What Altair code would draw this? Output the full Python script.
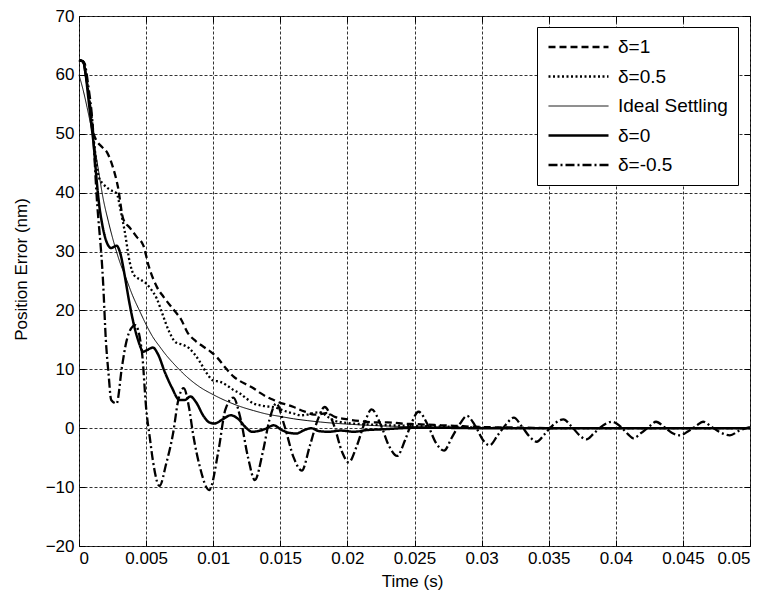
import altair as alt
import pandas as pd

FONT = "Liberation Sans"

series_order = ["δ=1", "δ=0.5", "Ideal Settling", "δ=0", "δ=-0.5"]
dash_list = [[7, 4], [2, 2.5], [1, 0], [1, 0], [9, 3, 2, 3]]
width_list = [2.3, 2.3, 1.0, 2.5, 2.3]

x_ticks = [0, 0.005, 0.01, 0.015, 0.02, 0.025, 0.03, 0.035, 0.04, 0.045, 0.05]
y_ticks = [-20, -10, 0, 10, 20, 30, 40, 50, 60, 70]

# delta = 1 (dashed)
t_d1 = [0, 0.0003, 0.0005, 0.0007, 0.0009, 0.0011, 0.0013, 0.0017, 0.0021, 0.0025,
        0.0029, 0.0033, 0.0038, 0.0043, 0.0048, 0.0052, 0.0058, 0.0063, 0.0071, 0.0076,
        0.0081, 0.0087, 0.0093, 0.0098, 0.0103, 0.0109, 0.0115, 0.012, 0.0125, 0.013,
        0.0135, 0.014, 0.0145, 0.015, 0.0155, 0.016, 0.0165, 0.017, 0.0175, 0.018,
        0.0185, 0.019, 0.02, 0.021, 0.022, 0.023, 0.024, 0.025, 0.026, 0.027, 0.028,
        0.03, 0.033, 0.036, 0.04, 0.045, 0.05]
v_d1 = [62.5, 62.3, 60, 57, 53.5, 50, 48.9, 47.8, 46.8, 44.5,
        41, 35.5, 34, 32.5, 31, 27.5, 24, 22.3, 20, 18.5,
        16.2, 14.8, 13.8, 13, 12, 10.3, 8.8, 8, 7.4, 6.8,
        6, 5.3, 4.8, 4.3, 4, 3.6, 3.1, 2.7, 2.3, 2.4,
        2.6, 2.0, 1.5, 1.2, 1.0, 1.0, 0.8, 0.7, 0.6, 0.5, 0.4,
        0.2, 0.1, 0, 0, 0, 0]

# delta = 0.5 (dotted)
t_d05 = [0, 0.0003, 0.0005, 0.0007, 0.0009, 0.0011, 0.0013, 0.0015, 0.0018, 0.0023,
         0.0028, 0.0031, 0.0034, 0.0038, 0.0041, 0.0046, 0.005, 0.0054, 0.0058, 0.0062,
         0.0067, 0.0072, 0.0077, 0.0082, 0.0086, 0.009, 0.0095, 0.01, 0.0105, 0.011,
         0.0115, 0.012, 0.0125, 0.013, 0.0135, 0.014, 0.0145, 0.015, 0.0155, 0.016,
         0.0165, 0.017, 0.0175, 0.018, 0.0185, 0.019, 0.02, 0.021, 0.022, 0.023,
         0.025, 0.027, 0.03, 0.035, 0.04, 0.05]
v_d05 = [62.5, 62.3, 60, 57, 53, 49, 45, 42.5, 41.5, 40.5,
         39.9, 37, 33.5, 28, 26, 25.2, 24.6, 23.5, 22, 19.5,
         16.5, 14.6, 14.2, 13.6, 12.6, 11.3, 9.4, 8.1, 7.9, 7.3,
         6.5, 5.9, 5, 4.2, 3.9, 3.7, 3.6, 3.2, 2.8, 2.5,
         2.2, 2.3, 2.6, 2.7, 2.0, 1.3, 0.9, 0.7, 0.6, 0.5,
         0.4, 0.3, 0.1, 0, 0, 0]

# ideal settling (thin)
t_id = [0, 0.0003, 0.0006, 0.001, 0.0014, 0.0018, 0.0022, 0.0026, 0.003, 0.0035,
        0.004, 0.0045, 0.005, 0.0055, 0.006, 0.0065, 0.007, 0.0075, 0.008, 0.009,
        0.01, 0.011, 0.012, 0.013, 0.014, 0.015, 0.016, 0.017, 0.018, 0.019,
        0.02, 0.022, 0.025, 0.03, 0.035, 0.04, 0.045, 0.05]
v_id = [60, 57.5, 54.5, 50, 44.5, 39, 35, 31.5, 28.5, 25.5,
        22.5, 20, 17.6, 15.5, 13.9, 12.4, 11.1, 9.9, 8.8, 7,
        5.7, 4.6, 3.7, 3.0, 2.4, 2.0, 1.6, 1.3, 1.05, 0.85,
        0.7, 0.45, 0.25, 0.1, 0.04, 0.02, 0.01, 0]

# delta = 0 (thick solid)
t_d0 = [0, 0.0003, 0.0005, 0.0007, 0.0009, 0.0011, 0.0013, 0.0015, 0.0017, 0.002,
        0.0024, 0.0028, 0.0031, 0.0034, 0.0037, 0.004, 0.0044, 0.0048, 0.0051, 0.0055,
        0.0059, 0.0064, 0.0069, 0.0075, 0.0079, 0.0083, 0.0087, 0.0093, 0.0097, 0.0101,
        0.0107, 0.0113, 0.0119, 0.0124, 0.0129, 0.0135, 0.014, 0.0145, 0.0151, 0.0157,
        0.0162, 0.0168, 0.0173, 0.0179, 0.0186, 0.0195, 0.0205, 0.0215, 0.0225, 0.024,
        0.026, 0.03, 0.035, 0.04, 0.045, 0.05]
v_d0 = [62.5, 62.3, 60, 56, 52, 48, 42.5, 38, 35, 32,
        30.6, 31, 29.5, 26, 22, 18.5, 15, 13, 13.3, 13.7,
        12.5, 9.5, 7, 4.8, 4.8, 5.4, 4.5, 2, 1, 0.8,
        1.5, 2.2, 1.5, 0.2, -0.6, -0.4, 0, 0.5, -0.3, -0.8,
        -0.9, -0.3, 0, -0.5, -0.6, -0.4, -0.6, -0.3, -0.2, 0,
        0.1, 0, 0, 0, 0, 0]

# delta = -0.5 (dash-dot)
t_dm05 = [0, 0.0004, 0.0007, 0.001, 0.0013, 0.0018, 0.002, 0.0022, 0.0024, 0.0028,
          0.0032, 0.0035, 0.0039, 0.0042, 0.0047, 0.005, 0.0053, 0.0055, 0.006, 0.0065,
          0.007, 0.0074, 0.0078, 0.0082, 0.0085, 0.009, 0.0097, 0.0104, 0.0109, 0.0115,
          0.012, 0.0126, 0.0131, 0.0137, 0.0142, 0.0147, 0.0153, 0.016, 0.0166, 0.0172,
          0.0178, 0.0183, 0.019, 0.0196, 0.0201, 0.0207, 0.0213, 0.0218, 0.0225, 0.0231,
          0.0237, 0.0243, 0.0248, 0.0253, 0.026, 0.0266, 0.0272, 0.0278, 0.0284, 0.0289,
          0.0295, 0.0301, 0.0306, 0.0312, 0.0318, 0.0324, 0.033, 0.0336, 0.0341, 0.0347,
          0.0353, 0.0361, 0.0367, 0.0373, 0.0378, 0.0384, 0.039, 0.0397, 0.0404, 0.0409,
          0.0413, 0.0419, 0.0425, 0.043, 0.0436, 0.0442, 0.0448, 0.0454, 0.046, 0.0465,
          0.0471, 0.0477, 0.0485, 0.0492, 0.05]
v_dm05 = [62.5, 62, 58, 52, 40, 24.6, 15, 9.3, 4.8, 4.2,
          10.4, 14.4, 17, 17.5, 12.7, 3.5, -2, -5.4, -9.8, -6,
          -1, 4.8, 6.8, 3.5, -1, -6.5, -10.5, -3.7, 3.1, 5.2,
          2, -5, -8.8, -4, 1.5, 4.2, 0.5, -5, -7.2, -3,
          1.5, 3.6, 0.5, -4, -5.8, -3, 1, 3.2, 0.5, -3,
          -4.7, -2, 1, 2.8, 0.5, -2.5, -3.8, -1.5, 0.8, 2.1,
          0.5, -2, -2.9, -1.2, 0.6, 1.8, 0.3, -1.5, -2.3, -1,
          0.5, 1.5, 0.3, -1.2, -1.9, -0.8, 0.4, 1.1, 0.2, -1,
          -1.7, -0.8, 0.3, 1.1, 0.2, -0.8, -1.2, -0.5, 0.4, 1.1,
          0.3, -0.6, -1.2, -0.4, 0.2]

frames = []
for name, ts, vs in [("δ=1", t_d1, v_d1), ("δ=0.5", t_d05, v_d05),
                     ("Ideal Settling", t_id, v_id), ("δ=0", t_d0, v_d0),
                     ("δ=-0.5", t_dm05, v_dm05)]:
    frames.append(pd.DataFrame({"t": ts, "v": vs, "series": name}))
df = pd.concat(frames, ignore_index=True)

W, H = 671, 530
xscale = alt.Scale(domain=[0, 0.05], nice=False, zero=False)
yscale = alt.Scale(domain=[-20, 70], nice=False, zero=False)

legend = alt.Legend(
    title=None, orient="none", legendX=458, legendY=11,
    fillColor="white", strokeColor="black", padding=10,
    symbolType="stroke", symbolSize=3600, symbolStrokeColor="black",
    clipHeight=20, rowPadding=9.5,
    labelFont=FONT, labelFontSize=19, labelColor="black", labelOffset=8,
)

main = alt.Chart(df).mark_line(color="black", interpolate="monotone").encode(
    x=alt.X("t:Q", scale=xscale, axis=alt.Axis(
        orient="bottom", values=x_ticks, format="~g", grid=True, ticks=False,
        tickSize=0, domain=False, labelPadding=4, title="Time (s)",
        titleX=333, titleY=35, titleBaseline="middle")),
    y=alt.Y("v:Q", scale=yscale, axis=alt.Axis(
        orient="left", values=y_ticks, format="d", grid=True, ticks=False,
        tickSize=0, domain=False, labelPadding=5, title="Position Error (nm)",
        titleX=-58, titleY=253, titleBaseline="middle")),
    strokeDash=alt.StrokeDash("series:N", scale=alt.Scale(domain=series_order, range=dash_list),
                              legend=legend),
    strokeWidth=alt.StrokeWidth("series:N",
                                scale=alt.Scale(type="ordinal", domain=series_order, range=width_list),
                                legend=legend),
)

tick_df = pd.DataFrame({"t": [0, 0.05], "v": [-20, 70]})

def tick_axis(orient, offset, vals):
    return alt.Axis(orient=orient, offset=offset, values=vals, labels=False, grid=False,
                    domain=False, ticks=True, tickSize=6, tickColor="black", tickWidth=1,
                    title=None)

ticks_a = alt.Chart(tick_df).mark_point(opacity=0).encode(
    x=alt.X("t:Q", scale=xscale, axis=tick_axis("top", -H, x_ticks)),
    y=alt.Y("v:Q", scale=yscale, axis=tick_axis("right", -W, y_ticks)),
)
ticks_b = alt.Chart(tick_df).mark_point(opacity=0).encode(
    x=alt.X("t:Q", scale=xscale, axis=tick_axis("bottom", -H, x_ticks)),
    y=alt.Y("v:Q", scale=yscale, axis=tick_axis("left", -W, y_ticks)),
)

chart = alt.layer(main, ticks_a, ticks_b).resolve_axis(
    x="independent", y="independent"
).properties(
    width=W, height=H,
    autosize=alt.AutoSizeParams(type="none"),
    padding={"left": 71, "top": 8, "right": 15, "bottom": 50},
).configure_view(
    stroke="black", strokeWidth=1
).configure_axis(
    labelFont=FONT, labelFontSize=17, labelColor="black",
    titleFont=FONT, titleFontSize=17, titleFontWeight="normal", titleColor="black",
    gridColor="#333333", gridDash=[3, 2], gridWidth=1, gridOpacity=1,
)

chart.save("out.html", embed_options={"renderer": "svg", "actions": False})
